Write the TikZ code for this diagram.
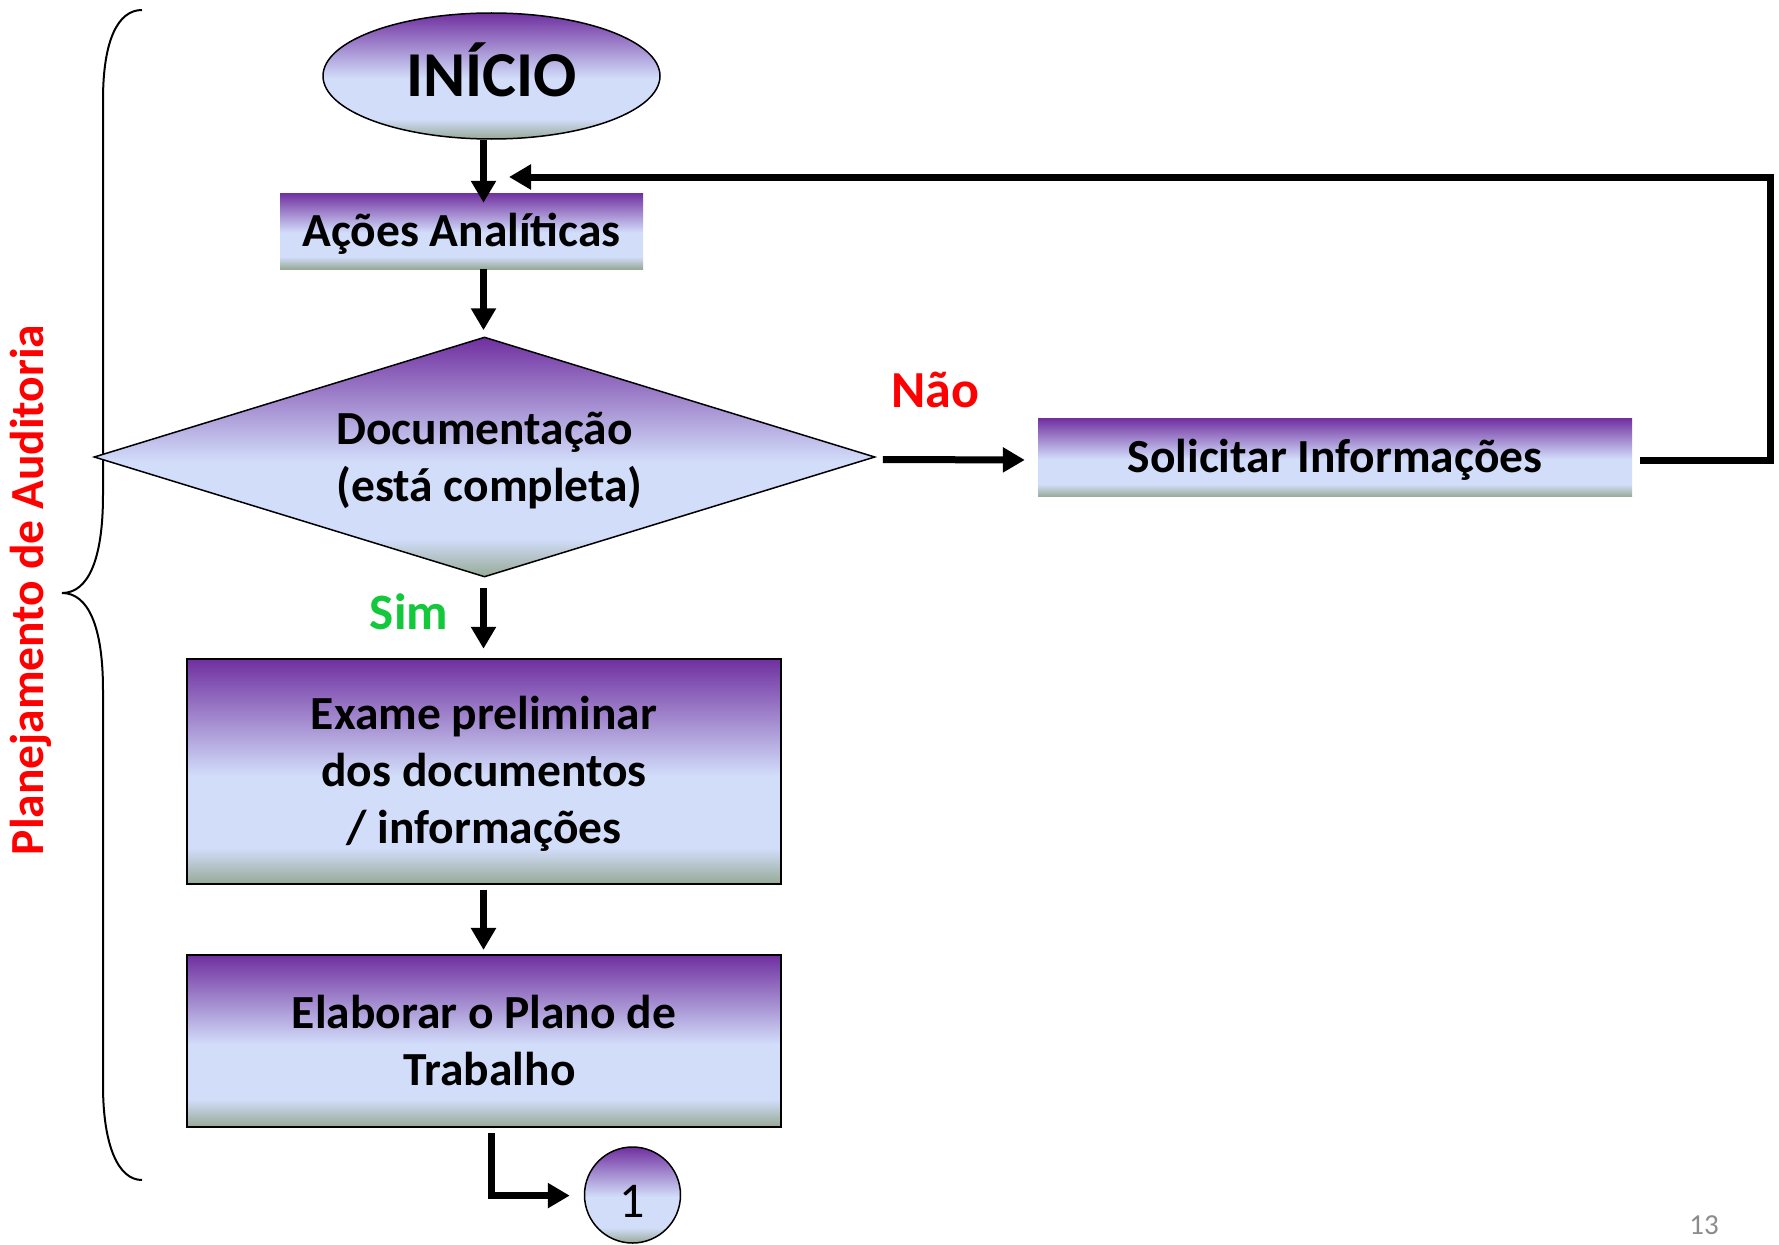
\documentclass[tikz,border=0pt]{standalone}
\usepackage{fontspec}
\setmainfont{Carlito}
\usetikzlibrary{shapes.geometric,arrows.meta,calc}
\definecolor{ppur}{RGB}{112,48,160}
\definecolor{plav}{RGB}{210,221,250}
\definecolor{pgrn}{RGB}{150,170,150}
\definecolor{simgreen}{RGB}{20,200,60}
\definecolor{pagegray}{RGB}{140,140,140}
\pgfdeclareverticalshading{pptshade}{100bp}{color(0bp)=(pgrn); color(25bp)=(pgrn); color(33bp)=(plav); color(49bp)=(plav); color(75bp)=(ppur); color(100bp)=(ppur)}
\begin{document}
\begin{tikzpicture}[x=1pt,y=-1pt,
  fnt/.style={font=\fontsize{47.5}{57}\selectfont\bfseries},
  grad/.style={shade, shading=pptshade},
  boxed/.style={draw=black, line width=2.5pt},
  thinb/.style={draw=black, line width=1.5pt},
  arr/.style={line width=7pt, -{Triangle[width=24pt,length=22pt]}, line join=miter},
]
\fill[white] (0,0) rectangle (1779,1244);
\useasboundingbox (0,0) rectangle (1779,1244);

% brace
\draw[line width=2pt] (142,10) .. controls (118,10) and (103,40) .. (103,100) -- (103,495)
  .. controls (103,560) and (88,593) .. (62,593)
  .. controls (88,593) and (103,626) .. (103,690) -- (103,1085)
  .. controls (103,1145) and (118,1180) .. (142,1180);
\node[fnt, text=red, rotate=90, anchor=base, inner sep=0pt] (plan) at (43,590) {Planejamento de Auditoria};

% nodes
\node[ellipse, grad, thinb, minimum width=337pt, minimum height=126pt, inner sep=0pt,
      font=\fontsize{64}{70}\selectfont\bfseries, text height=42pt, text depth=0pt] (ini) at (491.5,76) {INÍCIO};
\node[grad, fnt, minimum width=363pt, minimum height=76pt, inner sep=0pt,
      text height=34pt, text depth=4pt] (ac) at (461.5,231) {Ações Analíticas};
\node[diamond, grad, thinb, aspect=3.25, minimum width=781pt, minimum height=240pt, inner sep=0pt,
      align=center, fnt, text height=92pt, text depth=4pt] (dia) at (484.5,457) {Documentação\\\hspace*{10pt}(está completa)};
\node[grad, fnt, minimum width=594pt, minimum height=78.5pt, inner sep=0pt,
      text height=34pt, text depth=4pt] (so) at (1335,457.5) {Solicitar Informações};
\node[grad, boxed, fnt, align=center, minimum width=593.6pt, minimum height=225pt, inner sep=0pt,
      text height=148pt, text depth=4pt] (ex) at (484,771.5) {Exame preliminar\\dos documentos\\/ informações};
\node[grad, boxed, fnt, align=center, minimum width=593.6pt, minimum height=171.6pt, inner sep=0pt,
      text height=93pt, text depth=4pt] (el) at (484,1041) {Elaborar o Plano de\\\hspace*{11pt}Trabalho};
\node[circle, grad, thinb, minimum size=96pt, inner sep=0pt, font=\fontsize{50}{60}\selectfont,
      text height=45.5pt, text depth=0pt] (one) at (632.5,1195) {1};

% labels
\node[font=\fontsize{52}{60}\selectfont\bfseries, text=red, anchor=base, inner sep=0pt] (nao) at (935,407) {Não};
\node[font=\fontsize{51}{60}\selectfont\bfseries, text=simgreen, anchor=base, inner sep=0pt] (sim) at (409,629) {Sim};
\node[font=\fontsize{29}{35}\selectfont, text=pagegray, inner sep=0pt] (pg) at (1704,1225) {13};

% spine & helper coordinates
\coordinate (sp) at (483.5,0);
\coordinate (fbr) at (1770,177);
\coordinate (fbend) at (509,177);
\coordinate (bc) at (491,1195.6);

% connectors
\draw[arr, shorten >=-10pt] (ini.south -| sp) -- (ac.north -| sp);
\draw[arr, shorten >=6pt] (ac.south -| sp) -- (dia.north -| sp);
\draw[arr, shorten <=10pt, shorten >=9pt] (dia.south -| sp) -- (ex.north -| sp);
\draw[arr, shorten <=5pt, shorten >=4pt] (ex.south -| sp) -- (el.north -| sp);
\draw[arr, shorten <=7pt, shorten >=13pt] ([yshift=-2.5pt]dia.east) -- ([yshift=-2.5pt]so.west);
\draw[arr, shorten <=8pt] ([yshift=-2.5pt]so.east) -- ([yshift=-2.5pt]so.east -| fbr) -- (fbr) -- (fbend);
\draw[arr, shorten <=5pt, shorten >=14pt] (el.south -| bc) -- (bc) -- (one.west |- bc);
\end{tikzpicture}
\end{document}
